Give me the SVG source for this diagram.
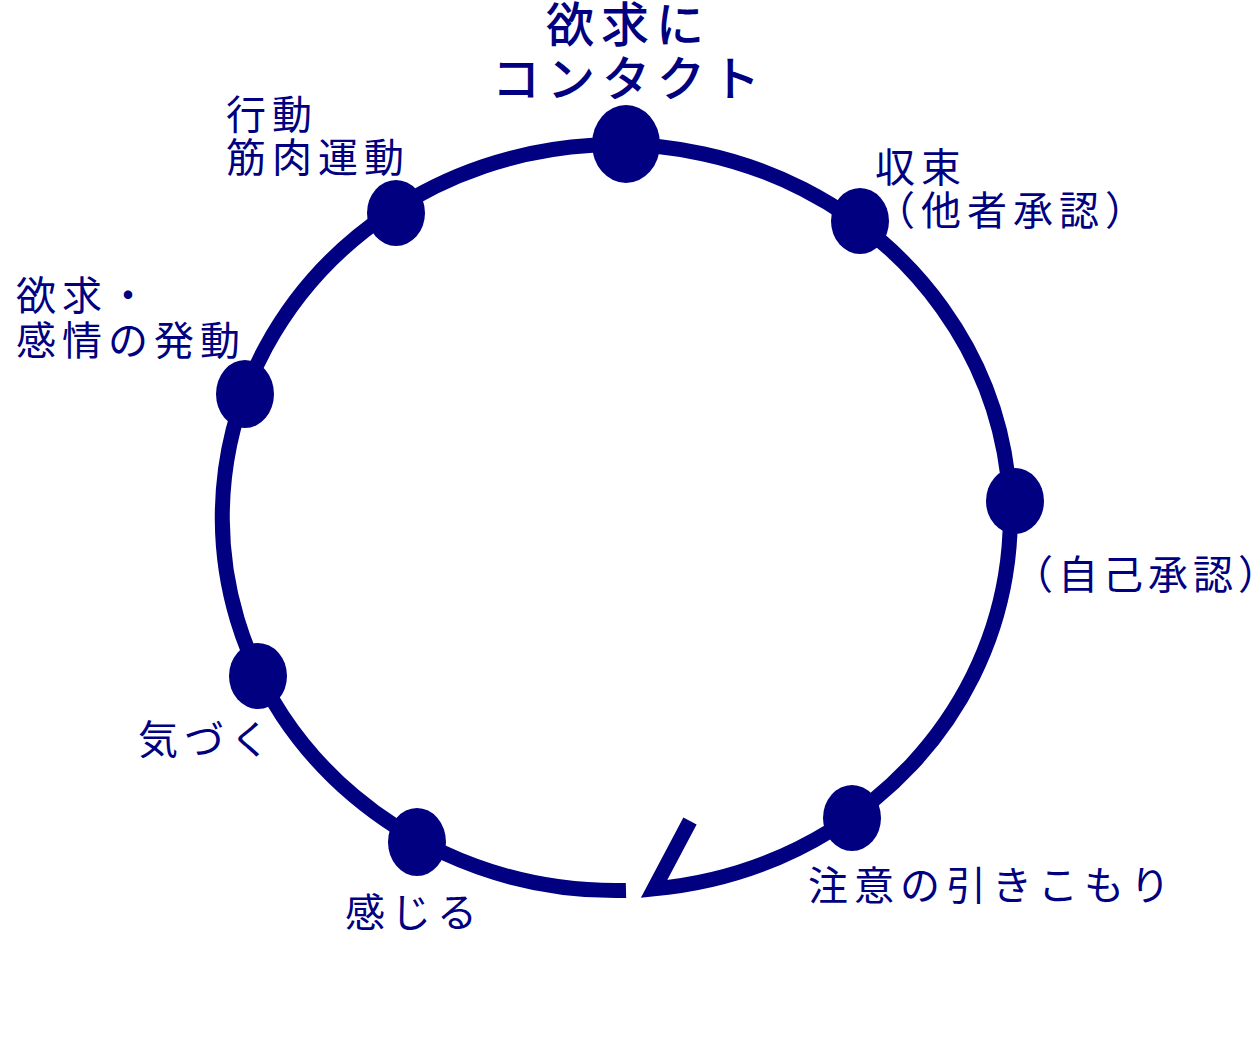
<svg xmlns="http://www.w3.org/2000/svg" width="1251" height="1049" viewBox="0 0 1251 1049">
<style>
.ring{fill:none;stroke:#000080;stroke-width:15;stroke-linejoin:miter;stroke-linecap:butt}
.dot{fill:#000080}
.lbl{font-family:"Noto Sans CJK JP","Noto Sans CJK SC",sans-serif;font-size:40px;fill:#000080;letter-spacing:6px}
.big{font-size:48px;font-weight:500;letter-spacing:7px}
</style>
<rect width="1251" height="1049" fill="#ffffff"/>
<g id="connectors">
<path class="ring" d="M 626 890.5 A 394 373 0 1 1 654 888.9 L 690 821"/>
</g>
<g id="node-contact">
<ellipse class="dot" cx="626" cy="144" rx="34" ry="39"/>
<text class="lbl big" x="546" y="42">欲求に</text>
<text class="lbl big" x="492" y="96">コンタクト</text>
</g>
<g id="node-action">
<ellipse class="dot" cx="396" cy="213" rx="29" ry="33"/>
<text class="lbl" x="226" y="129">行動</text>
<text class="lbl" x="226" y="172">筋肉運動</text>
</g>
<g id="node-mobilize">
<ellipse class="dot" cx="245" cy="394" rx="29" ry="34"/>
<text class="lbl" x="16" y="310">欲求・</text>
<text class="lbl" x="16" y="355">感情の発動</text>
</g>
<g id="node-aware">
<ellipse class="dot" cx="258" cy="676" rx="29" ry="33"/>
<text class="lbl" x="138" y="754">気づく</text>
</g>
<g id="node-sense">
<ellipse class="dot" cx="417" cy="842" rx="29" ry="34"/>
<text class="lbl" x="345" y="927">感じる</text>
</g>
<g id="node-withdraw">
<ellipse class="dot" cx="852" cy="818" rx="29" ry="33"/>
<text class="lbl" x="808" y="900">注意の引きこもり</text>
</g>
<g id="node-self">
<ellipse class="dot" cx="1015" cy="501" rx="29" ry="33"/>
<text class="lbl" x="1013" y="589" style="letter-spacing:5px">（自己承認）</text>
</g>
<g id="node-closure">
<ellipse class="dot" cx="860" cy="221" rx="29" ry="33"/>
<text class="lbl" x="875" y="182">収束</text>
<text class="lbl" x="875" y="225">（他者承認）</text>
</g>
</svg>
